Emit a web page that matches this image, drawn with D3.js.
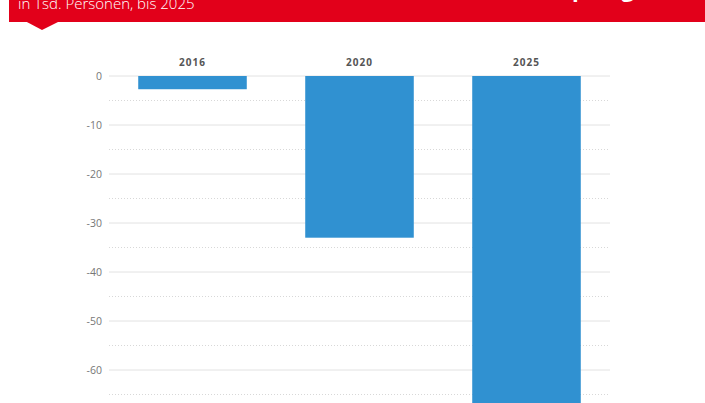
<!DOCTYPE html>
<html>
<head>
<meta charset="utf-8">
<script src="https://cdn.jsdelivr.net/npm/d3@7"></script>
<style>
  body { margin: 0; background: #fff; }
  svg { display: block; font-family: "Open Sans", "Noto Sans", sans-serif; }
</style>
</head>
<body>
<svg id="chart" width="705" height="403"></svg>
<script>
// -- data -- //
const years = ['2016', '2020', '2025'];
const values = [-2.7, -33, -75];
const yTicks = [0, -10, -20, -30, -40, -50, -60];
const halfTicks = [-5, -15, -25, -35, -45, -55, -65];
const subtitle = 'in Tsd. Personen, bis 2025';

const svg = d3.select('#chart');

// -- header band -- //
svg.append('rect')
    .attr('x', 9).attr('y', 0)
    .attr('width', 696).attr('height', 22)
    .style('fill', '#e2001a');
svg.append('path')
    .attr('d', 'M25,21 L60,21 L42,30 Z')
    .style('fill', '#e2001a');
svg.append('text')
    .attr('x', 18).attr('y', 9)
    .style('fill', '#fff')
    .style('font-size', '15px')
    .style('font-weight', '300')
    .text(subtitle);
svg.append('text')
    .attr('x', 572).attr('y', -3)
    .style('fill', '#fff')
    .style('font-size', '22px')
    .style('font-weight', '700')
    .style('letter-spacing', '4px')
    .text('prognos');

// -- scales -- //
let xScale = d3.scaleBand()
    .domain(years)
    .range([109, 610])
    .paddingInner(0.35)
    .paddingOuter(0.175);

let yScale = d3.scaleLinear()
    .domain([0, -10])
    .range([76, 125]);

let grid = svg.append('g');

grid.selectAll('.half')
    .data(halfTicks)
    .enter().append('line')
    .attr('class', 'half')
    .attr('x1', 109).attr('x2', 610)
    .attr('y1', d => yScale(d)).attr('y2', d => yScale(d))
    .style('stroke', '#d8d8d8')
    .style('stroke-width', '1')
    .style('stroke-dasharray', '1,2');

grid.selectAll('.full')
    .data(yTicks)
    .enter().append('line')
    .attr('class', 'full')
    .attr('x1', 109).attr('x2', 610)
    .attr('y1', d => yScale(d)).attr('y2', d => yScale(d))
    .style('stroke', '#e2e2e2')
    .style('stroke-width', '1');

// y axis labels (plain hyphen like the original)
let yAxis = d3.axisLeft(yScale)
    .tickValues(yTicks)
    .tickFormat(d => String(d))
    .tickSize(0).tickPadding(0);
svg.append('g')
    .attr('transform', 'translate(102,0)')
    .call(yAxis)
    .call(g => g.select('.domain').remove())
    .selectAll('text')
    .style('fill', '#777')
    .style('font-size', '10.5px')
    .style('font-family', '"Open Sans", sans-serif');

// -- bars -- //
svg.selectAll('.bar')
    .data(values)
    .enter().append('rect')
    .attr('class', 'bar')
    .attr('x', (d, i) => xScale(years[i]))
    .attr('y', yScale(0))
    .attr('width', xScale.bandwidth())
    .attr('height', d => yScale(d) - yScale(0))
    .style('fill', '#3091d1');

// year labels on top
let xAxis = d3.axisTop(xScale).tickSize(0).tickPadding(0);
svg.append('g')
    .attr('transform', 'translate(0,66)')
    .call(xAxis)
    .call(g => g.select('.domain').remove())
    .selectAll('text')
    .style('fill', '#555')
    .style('font-size', '10px')
    .style('font-weight', '700')
    .style('letter-spacing', '1px')
    .style('font-family', '"Open Sans", sans-serif');
</script>
</body>
</html>
